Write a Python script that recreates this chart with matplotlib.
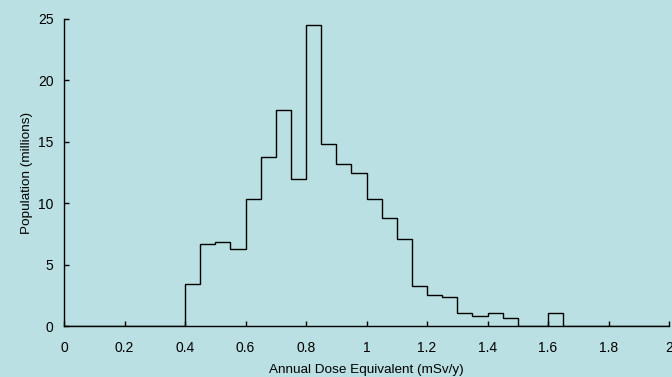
import matplotlib
matplotlib.use("Agg")
import matplotlib.pyplot as plt
import numpy as np

bin_edges = [round(i * 0.05, 2) for i in range(41)]
population = [0, 0, 0, 0, 0, 0, 0, 0,
              3.45, 6.65, 6.87, 6.25, 10.34, 13.76, 17.6, 12.0,
              24.55, 14.82, 13.17, 12.46, 10.34, 8.82, 7.08, 3.23,
              2.55, 2.34, 1.06, 0.84, 1.06, 0.65, 0, 0,
              1.06, 0, 0, 0, 0, 0, 0, 0]
x_ticks = [0, 0.2, 0.4, 0.6, 0.8, 1, 1.2, 1.4, 1.6, 1.8, 2]
x_tick_labels = ["0", "0.2", "0.4", "0.6", "0.8", "1", "1.2", "1.4", "1.6", "1.8", "2"]
y_ticks = [0, 5, 10, 15, 20, 25]

bg = "#BAE0E3"
plt.rcParams['font.family'] = ['Liberation Sans', 'DejaVu Sans']

fig = plt.figure(figsize=(6.72, 3.77), dpi=100, facecolor=bg)
ax = fig.add_axes([64/672, 1-326/377, (669-64)/672, (326-19)/377])
ax.set_facecolor(bg)

ax.stairs(population, bin_edges, color="black", linewidth=1.0, baseline=0)

ax.set_xlim(0, 2)
ax.set_ylim(0, 25)
ax.set_xticks(x_ticks)
ax.set_xticklabels(x_tick_labels)
ax.set_yticks(y_ticks)

for s in ["top", "right"]:
    ax.spines[s].set_visible(False)
for s in ["left", "bottom"]:
    ax.spines[s].set_linewidth(1.0)
    ax.spines[s].set_color("black")

ax.tick_params(axis="both", direction="in", length=3.5, width=1.0, labelsize=10, colors="black")
ax.tick_params(axis="x", pad=10.5)
ax.tick_params(axis="y", pad=7.5)

ax.set_xlabel("Annual Dose Equivalent (mSv/y)", fontsize=9.7, labelpad=6.5)
ax.set_ylabel("Population (millions)", fontsize=9.7, labelpad=3.5)

fig.savefig("out.png", dpi=100, facecolor=bg)
